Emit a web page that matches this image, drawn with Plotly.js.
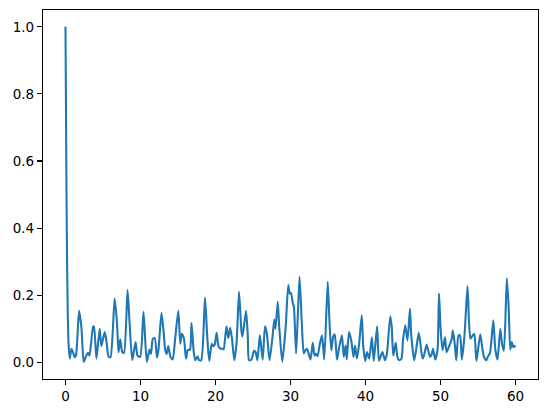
<!DOCTYPE html>
<html>
<head>
<meta charset="utf-8">
<script src="https://cdn.plot.ly/plotly-3.0.1.min.js"></script>
<style>html,body{margin:0;padding:0;background:#fff;}#chart{width:547px;height:413px;}</style>
</head>
<body>
<div id="chart"></div>
<script>
const lagX = [0,0.1,0.2,0.3,0.4,0.57,0.8,1.0,1.24,1.4,1.81,2.12,2.43,2.7,3.0,3.2,3.67,3.8,4.12,4.56,4.78,5.22,5.44,5.75,6.0,6.55,6.86,7.07,7.3,7.57,7.8,8.27,8.54,8.9,9.34,9.6,9.96,
10.4,10.84,11.2,11.4,11.64,11.9,12.2,12.4,12.8,13.1,13.3,13.5,13.7,14.0,14.3,14.6,15.04,15.3,15.5,15.8,16.06,16.3,16.6,16.8,17.1,17.3,17.6,17.8,18.1,18.6,18.9,19.16,19.5,19.7,19.9,
20.15,20.4,20.7,21.0,21.1,21.46,21.7,21.95,22.2,22.5,22.8,23.14,23.45,23.6,24.07,24.3,24.47,24.8,25.13,25.35,25.6,25.9,26.1,26.3,26.6,26.85,27.2,27.6,27.84,28.0,28.3,28.5,28.9,29.25,29.4,29.7,29.9,
30.05,30.3,30.45,30.75,31.2,31.5,31.77,32.0,32.2,32.66,32.97,33.2,33.4,33.6,33.9,34.2,34.5,34.96,35.2,35.44,35.7,35.9,36.2,36.5,36.86,37.1,37.35,37.5,37.8,38.1,38.4,38.6,38.85,39.15,39.5,39.7,39.96,
40.2,40.5,40.85,41.1,41.55,41.8,42.25,42.6,42.85,43.3,43.5,43.7,44.03,44.25,44.5,44.8,45.0,45.3,45.6,45.93,46.1,46.5,46.8,47.1,47.35,47.6,47.8,48.15,48.35,48.6,48.85,49.0,49.3,49.6,49.8,
50.0,50.27,50.6,50.8,51.1,51.5,51.64,51.9,52.1,52.4,52.6,52.85,53.2,53.6,53.8,54.0,54.3,54.5,54.7,54.8,55.3,55.6,55.8,56.1,56.3,56.6,57.04,57.3,57.6,57.97,58.2,58.45,58.85,59.1,59.3,59.5,59.7,59.85,60.0];
const acfY = [1.0,0.62,0.32,0.15,0.06,0.011,0.04,0.03,0.015,0.02,0.153,0.105,0.001,0.016,0.028,0.02,0.105,0.107,0.011,0.10,0.048,0.09,0.066,0.016,0.015,0.19,0.12,0.03,0.068,0.03,0.028,0.215,0.12,0.006,0.06,0.02,0.016,
0.15,0.001,0.038,0.025,0.07,0.072,0.014,0.038,0.147,0.085,0.036,0.025,0.048,0.016,0.008,0.065,0.153,0.055,0.085,0.07,0.011,0.036,0.038,0.117,0.03,0.006,0.018,0.006,0.006,0.193,0.075,0.004,0.055,0.048,0.053,
0.088,0.048,0.04,0.04,0.038,0.107,0.072,0.103,0.07,0.006,0.055,0.21,0.095,0.077,0.153,0.08,0.006,0.008,0.034,0.03,0.006,0.08,0.045,0.008,0.107,0.085,0.006,0.075,0.127,0.1,0.18,0.105,0.001,0.075,0.12,0.23,0.205,
0.207,0.177,0.165,0.026,0.255,0.12,0.026,0.036,0.04,0.008,0.058,0.02,0.025,0.018,0.053,0.08,0.008,0.24,0.12,0.036,0.077,0.083,0.008,0.045,0.08,0.016,0.05,0.008,0.09,0.065,0.016,0.05,0.011,0.055,0.14,0.048,0.004,
0.03,0.011,0.074,0.004,0.107,0.004,0.03,0.006,0.025,0.137,0.105,0.02,0.058,0.016,0.006,0.011,0.065,0.11,0.065,0.16,0.08,0.006,0.045,0.088,0.05,0.011,0.02,0.053,0.036,0.016,0.025,0.04,0.008,0.036,0.205,
0.105,0.036,0.074,0.03,0.045,0.07,0.095,0.055,0.006,0.08,0.08,0.008,0.08,0.227,0.12,0.07,0.08,0.085,0.03,0.004,0.083,0.038,0.016,0.006,0.016,0.028,0.125,0.04,0.008,0.10,0.055,0.034,0.25,0.158,0.038,0.06,0.045,0.048,0.045];
const xTicks = [0,10,20,30,40,50,60];
const yTicks = [0.0,0.2,0.4,0.6,0.8,1.0];
const yTickText = ['0.0','0.2','0.4','0.6','0.8','1.0'];

const axisCommon = {
  showgrid:false, zeroline:false, showline:true, mirror:true, linecolor:'#000', linewidth:1.1,
  ticks:'outside', ticklen:5, tickwidth:1.1, tickcolor:'#000',
  tickfont:{family:'DejaVu Sans', size:13.5, color:'#000'}
};
Plotly.newPlot('chart', [{
  x: lagX, y: acfY, type:'scatter', mode:'lines',
  line:{color:'#1f77b4', width:2.1, shape:'spline', smoothing:0.6}
}], {
  width:547, height:413,
  margin:{l:42.5, r:9, t:10, b:34},
  paper_bgcolor:'#fff', plot_bgcolor:'#fff',
  showlegend:false,
  xaxis: Object.assign({}, axisCommon, {range:[-3,63], tickvals:xTicks, ticktext:xTicks.map(String)}),
  yaxis: Object.assign({}, axisCommon, {range:[-0.05,1.05], tickvals:yTicks, ticktext:yTickText})
}, {staticPlot:true});
</script>
</body>
</html>
